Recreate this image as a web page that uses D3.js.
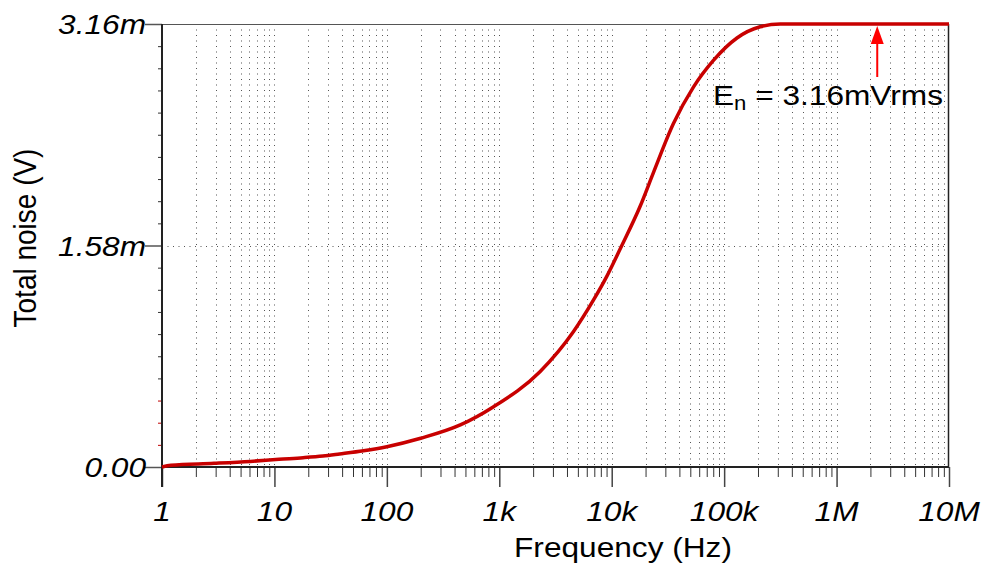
<!DOCTYPE html>
<html>
<head>
<meta charset="utf-8">
<script src="https://cdn.jsdelivr.net/npm/d3@7"></script>
<style>
  body { margin: 0; background: #fff; }
  text { font-family: "Liberation Sans", Arial, sans-serif; fill: #000; }
</style>
</head>
<body>
<svg width="987" height="571"></svg>
<script>
// values (frequency in Hz, total noise in mV)
const freqs = [1, 1.2, 2.9, 6.1, 11, 18, 27, 38, 62, 100, 200, 450, 890, 2300, 4560, 6870, 9040,
  12300, 17900, 23500, 35400, 53300, 80300, 130000, 209000, 316000, 1e6, 1e7];
const noise = [0, 0.012, 0.026, 0.040, 0.055, 0.066, 0.078, 0.093, 0.116, 0.145, 0.205, 0.30, 0.43,
  0.68, 0.965, 1.19, 1.36, 1.58, 1.86, 2.10, 2.45, 2.71, 2.90, 3.06, 3.14, 3.16, 3.16, 3.16];
const xTickValues = [1, 10, 100, 1e3, 1e4, 1e5, 1e6, 1e7];
const xTickLabels = ["1", "10", "100", "1k", "10k", "100k", "1M", "10M"];
const yTickValues = [0, 1.58, 3.16];
const yTickLabels = ["0.00", "1.58m", "3.16m"];
const markerFreq = 2.3e6;

const svg = d3.select("svg");
const plotLeft = 162, plotRight = 949, plotTop = 24, plotBottom = 467;
const stretch = 1.13;   // reference text is wider than it is tall
const fontSize = 28;

const x = d3.scaleLog().domain([1, 1e7]).range([plotLeft, plotRight]);
const y = d3.scaleLinear().domain([0, 3.16]).range([plotBottom, plotTop]);

// minor frequencies 2..9 per decade
const minorFreqs = [];
for (let d = 1; d < 1e7; d *= 10) {
  for (let k = 2; k <= 9; k++) minorFreqs.push(d * k);
}
const yMinor = d3.range(1, 20).filter(i => i !== 10).map(i => i * 3.16 / 20);

// dotted grid
svg.append("g")
  .selectAll("line")
  .data(minorFreqs.concat(xTickValues.slice(1, -1)))
  .join("line")
  .attr("x1", d => Math.round(x(d)) + 0.5)
  .attr("x2", d => Math.round(x(d)) + 0.5)
  .attr("y1", plotTop)
  .attr("y2", plotBottom)
  .attr("stroke", "#555")
  .attr("stroke-dasharray", "1,4.5");

svg.append("line")
  .attr("x1", plotLeft).attr("x2", plotRight)
  .attr("y1", Math.round(y(1.58)) + 0.5).attr("y2", Math.round(y(1.58)) + 0.5)
  .attr("stroke", "#555")
  .attr("stroke-dasharray", "1,4.5");

// bottom axis ticks
svg.append("g")
  .attr("transform", `translate(0,${plotBottom})`)
  .call(d3.axisBottom(x).tickValues(xTickValues).tickSize(20).tickSizeOuter(0).tickFormat(""))
  .call(g => g.select(".domain").remove())
  .call(g => g.selectAll("line").attr("stroke", "#444").attr("stroke-width", 1.5));

svg.append("g")
  .attr("transform", `translate(0,${plotBottom})`)
  .call(d3.axisBottom(x).tickValues(minorFreqs).tickSize(10).tickSizeOuter(0).tickFormat(""))
  .call(g => g.select(".domain").remove())
  .call(g => g.selectAll("line").attr("stroke", "#333").attr("stroke-width", 1));

// left axis ticks
svg.append("g")
  .attr("transform", `translate(${plotLeft},0)`)
  .call(d3.axisLeft(y).tickValues(yTickValues).tickSize(17).tickSizeOuter(0).tickFormat(""))
  .call(g => g.select(".domain").remove())
  .call(g => g.selectAll("line").attr("stroke", "#555").attr("stroke-width", 1.5));

svg.append("g")
  .attr("transform", `translate(${plotLeft},0)`)
  .call(d3.axisLeft(y).tickValues(yMinor).tickSize(4).tickSizeOuter(0).tickFormat(""))
  .call(g => g.select(".domain").remove())
  .call(g => g.selectAll("line").attr("stroke", (d, i) => i < 3 ? "#c00000" : "#333"));

// frame
svg.append("line").attr("x1", plotLeft).attr("x2", plotRight).attr("y1", plotTop + 0.5).attr("y2", plotTop + 0.5)
  .attr("stroke", "#555").attr("stroke-width", 1.2);
svg.append("line").attr("x1", plotRight - 0.5).attr("x2", plotRight - 0.5).attr("y1", plotTop).attr("y2", plotBottom)
  .attr("stroke", "#222").attr("stroke-width", 1.5);
svg.append("line").attr("x1", plotLeft).attr("x2", plotRight).attr("y1", plotBottom).attr("y2", plotBottom)
  .attr("stroke", "#222").attr("stroke-width", 2);
svg.append("line").attr("x1", plotLeft).attr("x2", plotLeft).attr("y1", plotTop).attr("y2", plotBottom + 20)
  .attr("stroke", "#222").attr("stroke-width", 2);

// noise curve
const line = d3.line()
  .x((d, i) => x(freqs[i]))
  .y(d => y(d))
  .curve(d3.curveMonotoneX);

svg.append("path")
  .datum(noise)
  .attr("d", line)
  .attr("fill", "none")
  .attr("stroke", "#c80000")
  .attr("stroke-width", 3.5);

// tick labels
svg.append("g")
  .selectAll("text")
  .data(xTickValues)
  .join("text")
  .attr("transform", d => `translate(${x(d)},521) scale(${stretch},1)`)
  .attr("text-anchor", "middle")
  .attr("font-size", fontSize)
  .attr("font-style", "italic")
  .text((d, i) => xTickLabels[i]);

svg.append("g")
  .selectAll("text")
  .data(yTickValues)
  .join("text")
  .attr("transform", d => `translate(146,${y(d) + 10}) scale(${stretch},1)`)
  .attr("text-anchor", "end")
  .attr("font-size", fontSize)
  .attr("font-style", "italic")
  .text((d, i) => yTickLabels[i]);

// axis titles
svg.append("text")
  .attr("transform", `translate(623,557) scale(${stretch},1)`)
  .attr("text-anchor", "middle")
  .attr("font-size", fontSize)
  .text("Frequency (Hz)");

svg.append("text")
  .attr("transform", `translate(36,238) scale(${stretch},1) rotate(-90)`)
  .attr("text-anchor", "middle")
  .attr("font-size", fontSize)
  .text("Total noise (V)");

// marker arrow and annotation
const mx = x(markerFreq);
svg.append("line")
  .attr("x1", mx).attr("x2", mx)
  .attr("y1", 77).attr("y2", 42)
  .attr("stroke", "#ff0000").attr("stroke-width", 2);
svg.append("path")
  .attr("d", `M${mx},${plotTop + 2}L${mx - 6.5},${plotTop + 20}L${mx + 6.5},${plotTop + 20}Z`)
  .attr("fill", "#ff0000");

const ann = svg.append("text")
  .attr("transform", `translate(713,105) scale(${stretch},1)`)
  .attr("font-size", fontSize);
ann.append("tspan").text("E");
ann.append("tspan").attr("font-size", fontSize * 0.7).attr("dy", 5).text("n");
ann.append("tspan").attr("dy", -5).text(" = 3.16mVrms");
</script>
</body>
</html>
